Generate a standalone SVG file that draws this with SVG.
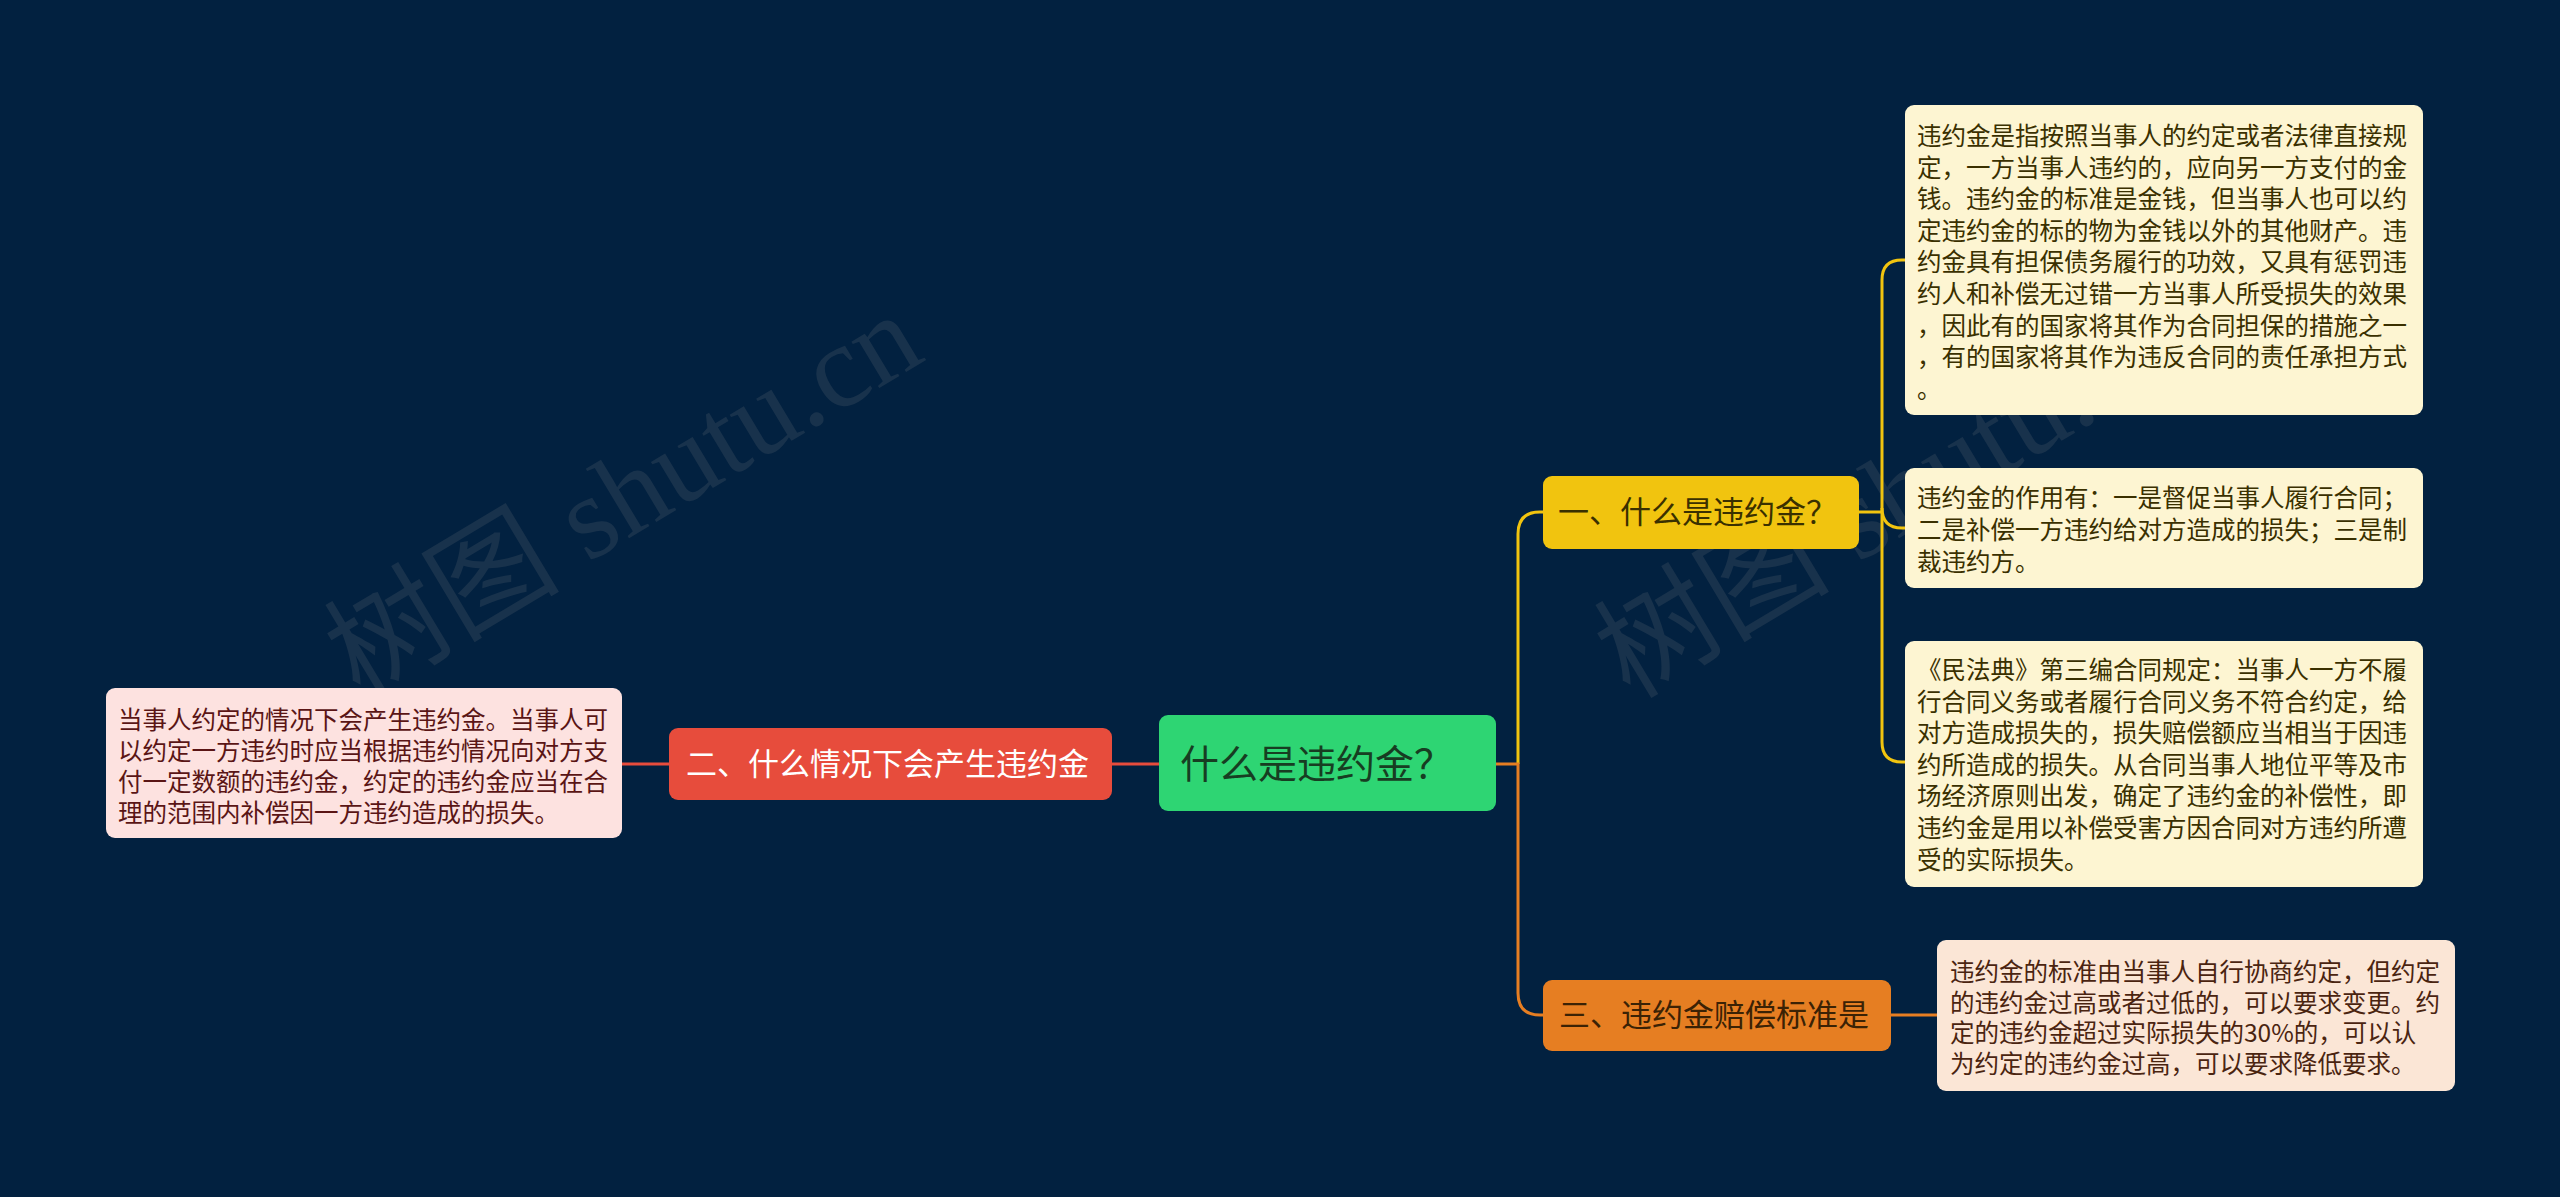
<svg xmlns="http://www.w3.org/2000/svg" width="2560" height="1197" viewBox="0 0 2560 1197">
<style>
.cjk{font-family:"Noto Sans CJK SC","Noto Sans",sans-serif}
.leaf{font-size:24.5px}
.br{font-size:31px}
.ly{fill:#3a3000}
.wm{font-family:"Liberation Serif","Noto Sans CJK SC",serif;font-size:118px;fill:#8a8a8a;opacity:0.16}
.c{fill:none;stroke-width:3}
</style>
<rect width="2560" height="1197" fill="#022140"/>
<g id="watermarks">
<text class="wm" transform="translate(360,700) rotate(-31)">树图 shutu.cn</text>
<text class="wm" transform="translate(1630,700) rotate(-31)">树图 shutu.cn</text>
</g>
<g id="connectors">
<path class="c" stroke="#e74c3c" d="M1159,764 H1112"/>
<path class="c" stroke="#e74c3c" d="M669,764 H622"/>
<path class="c" stroke="#f1c40f" d="M1518,764 V534 Q1518,512 1540,512 H1543"/>
<path class="c" stroke="#e67e22" d="M1496,764 H1518 V993 Q1518,1015 1540,1015 H1543"/>
<path class="c" stroke="#f1c40f" d="M1859,512 H1882"/>
<path class="c" stroke="#f1c40f" d="M1905,260 H1902 Q1882,260 1882,280 V742 Q1882,762 1902,762 H1905"/>
<path class="c" stroke="#f1c40f" d="M1882,508 Q1882,528 1902,528 H1905"/>
<path class="c" stroke="#e67e22" d="M1891,1015 H1937"/>
</g>
<g id="root">
<rect x="1159" y="715" width="337" height="96" rx="9" fill="#2ed573"/>
<text class="cjk" x="1180" y="778" font-size="39" fill="#173d22">什么是违约金？</text>
</g>
<g id="branch2">
<rect x="669" y="728" width="443" height="72" rx="9" fill="#e74c3c"/>
<text class="cjk br" x="686" y="775" fill="#ffffff">二、什么情况下会产生违约金</text>
</g>
<g id="leaf-left">
<rect x="106" y="688" width="516" height="150" rx="9" fill="#fde2e0"/>
<text class="cjk leaf" fill="#5a1515">
<tspan x="118" y="729">当事人约定的情况下会产生违约金。当事人可</tspan>
<tspan x="118" y="760">以约定一方违约时应当根据违约情况向对方支</tspan>
<tspan x="118" y="791">付一定数额的违约金，约定的违约金应当在合</tspan>
<tspan x="118" y="822">理的范围内补偿因一方违约造成的损失。</tspan>
</text>
</g>
<g id="branch1">
<rect x="1543" y="476" width="316" height="73" rx="9" fill="#f1c40f"/>
<text class="cjk br ly" x="1558" y="523">一、什么是违约金？</text>
</g>
<g id="branch3">
<rect x="1543" y="980" width="348" height="71" rx="9" fill="#e67e22"/>
<text class="cjk br" x="1559" y="1026" fill="#3b2205">三、违约金赔偿标准是</text>
</g>
<g id="leaf1">
<rect x="1905" y="105" width="518" height="310" rx="9" fill="#fdf5d2"/>
<text class="cjk leaf ly">
<tspan x="1917" y="145">违约金是指按照当事人的约定或者法律直接规</tspan>
<tspan x="1917" y="176.6">定，一方当事人违约的，应向另一方支付的金</tspan>
<tspan x="1917" y="208.2">钱。违约金的标准是金钱，但当事人也可以约</tspan>
<tspan x="1917" y="239.8">定违约金的标的物为金钱以外的其他财产。违</tspan>
<tspan x="1917" y="271.4">约金具有担保债务履行的功效，又具有惩罚违</tspan>
<tspan x="1917" y="303">约人和补偿无过错一方当事人所受损失的效果</tspan>
<tspan x="1917" y="334.6">，因此有的国家将其作为合同担保的措施之一</tspan>
<tspan x="1917" y="366.2">，有的国家将其作为违反合同的责任承担方式</tspan>
<tspan x="1917" y="397.8">。</tspan>
</text>
</g>
<g id="leaf2">
<rect x="1905" y="468" width="518" height="120" rx="9" fill="#fdf5d2"/>
<text class="cjk leaf ly">
<tspan x="1917" y="507">违约金的作用有：一是督促当事人履行合同；</tspan>
<tspan x="1917" y="539">二是补偿一方违约给对方造成的损失；三是制</tspan>
<tspan x="1917" y="571">裁违约方。</tspan>
</text>
</g>
<g id="leaf3">
<rect x="1905" y="641" width="518" height="246" rx="9" fill="#fdf5d2"/>
<text class="cjk leaf ly">
<tspan x="1917" y="679">《民法典》第三编合同规定：当事人一方不履</tspan>
<tspan x="1917" y="710.6">行合同义务或者履行合同义务不符合约定，给</tspan>
<tspan x="1917" y="742.2">对方造成损失的，损失赔偿额应当相当于因违</tspan>
<tspan x="1917" y="773.8">约所造成的损失。从合同当事人地位平等及市</tspan>
<tspan x="1917" y="805.4">场经济原则出发，确定了违约金的补偿性，即</tspan>
<tspan x="1917" y="837">违约金是用以补偿受害方因合同对方违约所遭</tspan>
<tspan x="1917" y="868.6">受的实际损失。</tspan>
</text>
</g>
<g id="leaf4">
<rect x="1937" y="940" width="518" height="151" rx="9" fill="#fbe6d6"/>
<text class="cjk leaf" fill="#4a2410">
<tspan x="1950" y="981">违约金的标准由当事人自行协商约定，但约定</tspan>
<tspan x="1950" y="1011.5">的违约金过高或者过低的，可以要求变更。约</tspan>
<tspan x="1950" y="1042">定的违约金超过实际损失的30%的，可以认</tspan>
<tspan x="1950" y="1072.5">为约定的违约金过高，可以要求降低要求。</tspan>
</text>
</g>
</svg>
